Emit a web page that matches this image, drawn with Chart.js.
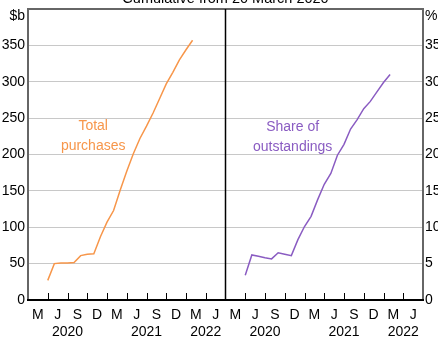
<!DOCTYPE html>
<html>
<head>
<meta charset="utf-8">
<script src="https://cdn.jsdelivr.net/npm/chart.js@4.4.1/dist/chart.umd.min.js"></script>
<style>
  html, body { margin:0; padding:0; background:#fff; }
  #wrap { position:relative; width:438px; height:341px; }
</style>
</head>
<body>
<div id="wrap"><canvas id="chart" width="438" height="341"></canvas></div>
<script>
/* Bond purchases: two panels, same monthly dates */
const monthEnds = ['2020-03','2020-04','2020-05','2020-06','2020-07','2020-08','2020-09','2020-10','2020-11','2020-12',
  '2021-01','2021-02','2021-03','2021-04','2021-05','2021-06','2021-07','2021-08','2021-09','2021-10','2021-11','2021-12','2022-01'];
const purchases = [27, 50, 51, 51, 51.5, 61, 63, 63.5, 87, 107, 123, 151, 177, 201, 222, 239, 257, 277, 297, 313, 330, 344, 357];
const shareOutstanding = [3.4, 6.2, 6.0, 5.8, 5.65, 6.5, 6.3, 6.1, 8.3, 10.1, 11.5, 13.8, 15.9, 17.4, 19.9, 21.4, 23.5, 24.8, 26.3, 27.3, 28.6, 29.9, 31.0];

const quarterLabels = ['M','J','S','D','M','J','S','D','M','J'];
const quarterCentres = [1.5, 4.5, 7.5, 10.5, 13.5, 16.5, 19.5, 22.5, 25.5, 28.5];
const quarterBounds = [3, 6, 9, 12, 15, 18, 21, 24, 27];
const yearLabels = ['2020','2021','2022'];
const yearCentres = [6, 18, 27];
const leftTicks = [0, 50, 100, 150, 200, 250, 300, 350, 400];
const rightTicks = [0, 5, 10, 15, 20, 25, 30, 35, 40];

const ORANGE = '#f7964a', PURPLE = '#8a5cc2';
const FONT = 'Arial, "Liberation Sans", sans-serif';

// months since 1 Jan 2020, at month end
const monthIndex = s => { const [y, m] = s.split('-').map(Number); return (y - 2020) * 12 + m; };
const toPoints = vals => monthEnds.map((m, i) => ({ x: monthIndex(m), y: vals[i] }));

const quarterAxis = () => ({
  type:'linear', position:'bottom', stack:'panels', stackWeight:1, weight:0, min:0, max:30,
  afterBuildTicks: s => { s.ticks = quarterCentres.map(v => ({ value:v })); },
  afterFit: s => { s.height = 22; },
  ticks: { autoSkip:false, maxRotation:0, padding:7, color:'#000', font:{ family:FONT, size:14 },
           callback:(v, i) => quarterLabels[i] },
  grid: { display:false, drawTicks:false },
  border: { display:false }
});
const yearAxis = () => ({
  type:'linear', position:'bottom', stack:'years', stackWeight:1, weight:1, min:0, max:30,
  afterBuildTicks: s => { s.ticks = yearCentres.map(v => ({ value:v })); },
  afterFit: s => { s.height = 19; },
  ticks: { autoSkip:false, maxRotation:0, padding:2, color:'#000', font:{ family:FONT, size:14 },
           callback:(v, i) => yearLabels[i] },
  grid: { display:false, drawTicks:false },
  border: { display:false }
});
const valueAxis = (pos, ticks, width, pad) => ({
  type:'linear', position:pos, min:ticks[0], max:ticks[ticks.length - 1],
  afterBuildTicks: s => { s.ticks = ticks.map(v => ({ value:v })); },
  afterFit: s => { s.width = width; s.paddingTop = 0; s.paddingBottom = 0; },
  ticks: { padding:pad, color:'#000', font:{ family:FONT, size:14 },
           callback: v => v === ticks[ticks.length - 1] ? '' : v },
  border: { color:'#666', width:2 }
});

const frame = {
  id:'frame',
  afterDatasetsDraw(chart) {
    const { ctx, chartArea:a, scales } = chart;
    ctx.save();
    // base line
    ctx.strokeStyle = '#000';
    ctx.lineWidth = 2;
    ctx.beginPath(); ctx.moveTo(a.left - 1, a.bottom); ctx.lineTo(a.right + 1, a.bottom); ctx.stroke();
    // inward quarter ticks
    ctx.lineWidth = 1;
    ['x','x2'].forEach(id => {
      quarterBounds.forEach(v => {
        const px = Math.round(scales[id].getPixelForValue(v)) + 0.5;
        ctx.beginPath(); ctx.moveTo(px, a.bottom); ctx.lineTo(px, a.bottom - 7); ctx.stroke();
      });
    });
    // panel divider
    const dx = scales.x.getPixelForValue(30);
    ctx.lineWidth = 1.5;
    ctx.beginPath(); ctx.moveTo(dx, a.top); ctx.lineTo(dx, a.bottom); ctx.stroke();

    // title, units
    ctx.fillStyle = '#000';
    ctx.textBaseline = 'alphabetic';
    ctx.font = '14.5px ' + FONT;
    ctx.textAlign = 'center';
    ctx.fillText('Cumulative from 20 March 2020', (a.left + a.right) / 2, 3);
    ctx.font = '14px ' + FONT;
    ctx.textAlign = 'right';
    ctx.fillText('$b', a.left - 3, 20);
    ctx.textAlign = 'left';
    ctx.fillText('%', a.right + 2, 20);

    // series labels
    ctx.textAlign = 'center';
    ctx.fillStyle = ORANGE;
    let lx = scales.x.getPixelForValue(9.9), ly = scales.y.getPixelForValue(233);
    ctx.fillText('Total', lx, ly);
    ctx.fillText('purchases', lx, ly + 20);
    ctx.fillStyle = PURPLE;
    lx = scales.x2.getPixelForValue(10.2); ly = scales.y2.getPixelForValue(23.2);
    ctx.fillText('Share of', lx, ly);
    ctx.fillText('outstandings', lx, ly + 20);
    ctx.restore();
  }
};

const yLeft = valueAxis('left', leftTicks, 28, 3);
yLeft.grid = {
  drawTicks:false,
  color: c => c.tick.value === 400 ? '#666' : '#c8c8c8',
  lineWidth: c => c.tick.value === 400 ? 2 : 1
};
const yRight = valueAxis('right', rightTicks, 15, 2);
yRight.grid = { drawOnChartArea:false, drawTicks:false };

new Chart(document.getElementById('chart'), {
  type:'line',
  data: {
    datasets: [
      { label:'Total purchases', data:toPoints(purchases), xAxisID:'x', yAxisID:'y',
        borderColor:ORANGE, borderWidth:1.5, pointRadius:0, tension:0 },
      { label:'Share of outstandings', data:toPoints(shareOutstanding), xAxisID:'x2', yAxisID:'y2',
        borderColor:PURPLE, borderWidth:1.5, pointRadius:0, tension:0 }
    ]
  },
  options: {
    responsive:false, animation:false,
    layout: { padding:{ top:9, left:0, right:0, bottom:0 } },
    plugins: { legend:{ display:false }, tooltip:{ enabled:false }, title:{ display:false } },
    scales: { x: quarterAxis(), x2: quarterAxis(), xy: yearAxis(), xy2: yearAxis(), y: yLeft, y2: yRight }
  },
  plugins:[frame]
});
</script>
</body>
</html>
